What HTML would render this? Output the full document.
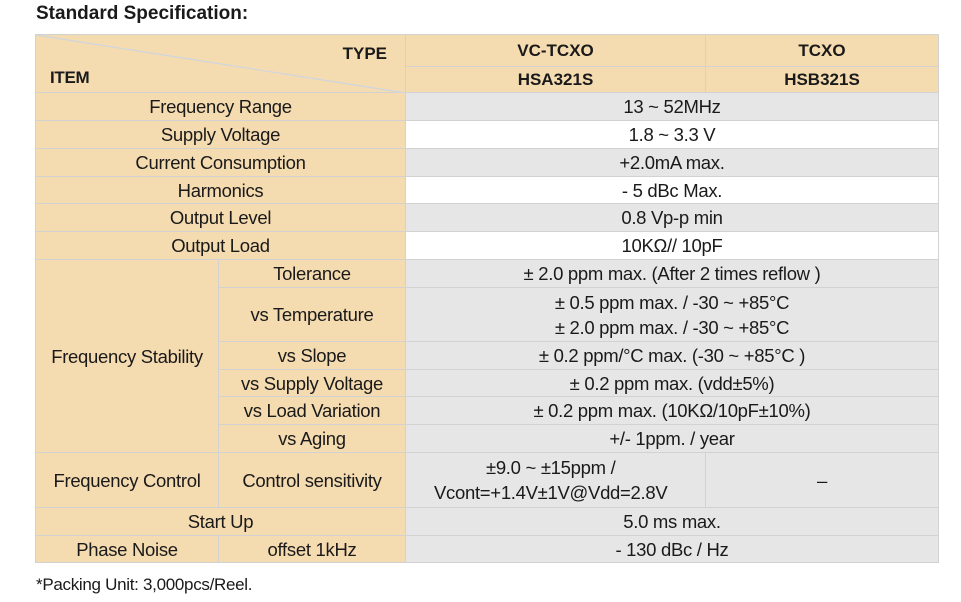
<!DOCTYPE html>
<html><head><meta charset="utf-8"><style>
body{margin:0;width:961px;height:602px;background:#fff;position:relative;font-family:"Liberation Sans",Arial,sans-serif;color:#1a1a1a;overflow:hidden}
.c{position:absolute;box-sizing:border-box;border-right:1px solid #d2d2d2;border-bottom:1px solid #d2d2d2;display:flex;align-items:center;justify-content:center;text-align:center;font-size:18.5px;letter-spacing:-0.3px;line-height:25px}
.b{background:#f5dbb0}.g{background:#e6e6e6}.w{background:#fff}
.h{font-weight:bold;font-size:17px;letter-spacing:0}
</style></head><body>
<div style="position:absolute;left:36px;top:3px;font-weight:bold;font-size:19px">Standard Specification:</div>
<div style="position:absolute;left:35px;top:34px;width:904px;height:529px;border-top:1px solid #d2d2d2;border-left:1px solid #d2d2d2;box-sizing:border-box"></div>

<div class="c b" style="left:36px;top:35px;width:370px;height:58px">
<svg width="370" height="58" style="position:absolute;left:0;top:0"><line x1="0" y1="0" x2="370" y2="58" stroke="#cdd6e0" stroke-width="1.2"/></svg>
<span class="h" style="position:absolute;right:18px;top:6px;font-weight:bold;font-size:17px">TYPE</span>
<span style="position:absolute;left:14px;top:30px;font-weight:bold;font-size:17px">ITEM</span></div>
<div class="c b h" style="left:406px;top:35px;width:300px;height:32px">VC-TCXO</div>
<div class="c b h" style="left:706px;top:35px;width:233px;height:32px">TCXO</div>
<div class="c b h" style="left:406px;top:67px;width:300px;height:26px">HSA321S</div>
<div class="c b h" style="left:706px;top:67px;width:233px;height:26px">HSB321S</div>

<div class="c b" style="left:36px;top:93px;width:370px;height:28px">Frequency Range</div>
<div class="c g" style="left:406px;top:93px;width:533px;height:28px">13 ~ 52MHz</div>
<div class="c b" style="left:36px;top:121px;width:370px;height:28px">Supply Voltage</div>
<div class="c w" style="left:406px;top:121px;width:533px;height:28px">1.8 ~ 3.3 V</div>
<div class="c b" style="left:36px;top:149px;width:370px;height:28px">Current Consumption</div>
<div class="c g" style="left:406px;top:149px;width:533px;height:28px">+2.0mA max.</div>
<div class="c b" style="left:36px;top:177px;width:370px;height:27px">Harmonics</div>
<div class="c w" style="left:406px;top:177px;width:533px;height:27px">- 5 dBc Max.</div>
<div class="c b" style="left:36px;top:204px;width:370px;height:28px">Output Level</div>
<div class="c g" style="left:406px;top:204px;width:533px;height:28px">0.8 Vp-p min</div>
<div class="c b" style="left:36px;top:232px;width:370px;height:28px">Output Load</div>
<div class="c w" style="left:406px;top:232px;width:533px;height:28px">10KΩ// 10pF</div>

<div class="c b" style="left:36px;top:260px;width:183px;height:193px">Frequency Stability</div>
<div class="c b" style="left:219px;top:260px;width:187px;height:28px">Tolerance</div>
<div class="c g" style="left:406px;top:260px;width:533px;height:28px">± 2.0 ppm max. (After 2 times reflow )</div>
<div class="c b" style="left:219px;top:288px;width:187px;height:54px">vs Temperature</div>
<div class="c g" style="left:406px;top:288px;width:533px;height:54px">± 0.5 ppm max. / -30 ~ +85°C<br>± 2.0 ppm max. / -30 ~ +85°C</div>
<div class="c b" style="left:219px;top:342px;width:187px;height:28px">vs Slope</div>
<div class="c g" style="left:406px;top:342px;width:533px;height:28px">± 0.2 ppm/°C max. (-30 ~ +85°C )</div>
<div class="c b" style="left:219px;top:370px;width:187px;height:27px">vs Supply Voltage</div>
<div class="c g" style="left:406px;top:370px;width:533px;height:27px">± 0.2 ppm max. (vdd±5%)</div>
<div class="c b" style="left:219px;top:397px;width:187px;height:28px">vs Load Variation</div>
<div class="c g" style="left:406px;top:397px;width:533px;height:28px">± 0.2 ppm max. (10KΩ/10pF±10%)</div>
<div class="c b" style="left:219px;top:425px;width:187px;height:28px">vs Aging</div>
<div class="c g" style="left:406px;top:425px;width:533px;height:28px">+/- 1ppm. / year</div>

<div class="c b" style="left:36px;top:453px;width:183px;height:55px">Frequency Control</div>
<div class="c b" style="left:219px;top:453px;width:187px;height:55px">Control sensitivity</div>
<div class="c g" style="left:406px;top:453px;width:300px;height:55px;justify-content:flex-start;padding-left:28px;text-align:center"><div>±9.0 ~ ±15ppm /<br>Vcont=+1.4V±1V@Vdd=2.8V</div></div>
<div class="c g" style="left:706px;top:453px;width:233px;height:55px">–</div>

<div class="c b" style="left:36px;top:508px;width:370px;height:28px">Start Up</div>
<div class="c g" style="left:406px;top:508px;width:533px;height:28px">5.0 ms max.</div>
<div class="c b" style="left:36px;top:536px;width:183px;height:27px">Phase Noise</div>
<div class="c b" style="left:219px;top:536px;width:187px;height:27px">offset 1kHz</div>
<div class="c g" style="left:406px;top:536px;width:533px;height:27px">- 130 dBc / Hz</div>

<div style="position:absolute;left:36px;top:575px;font-size:17px;letter-spacing:-0.3px">*Packing Unit: 3,000pcs/Reel.</div>
</body></html>
